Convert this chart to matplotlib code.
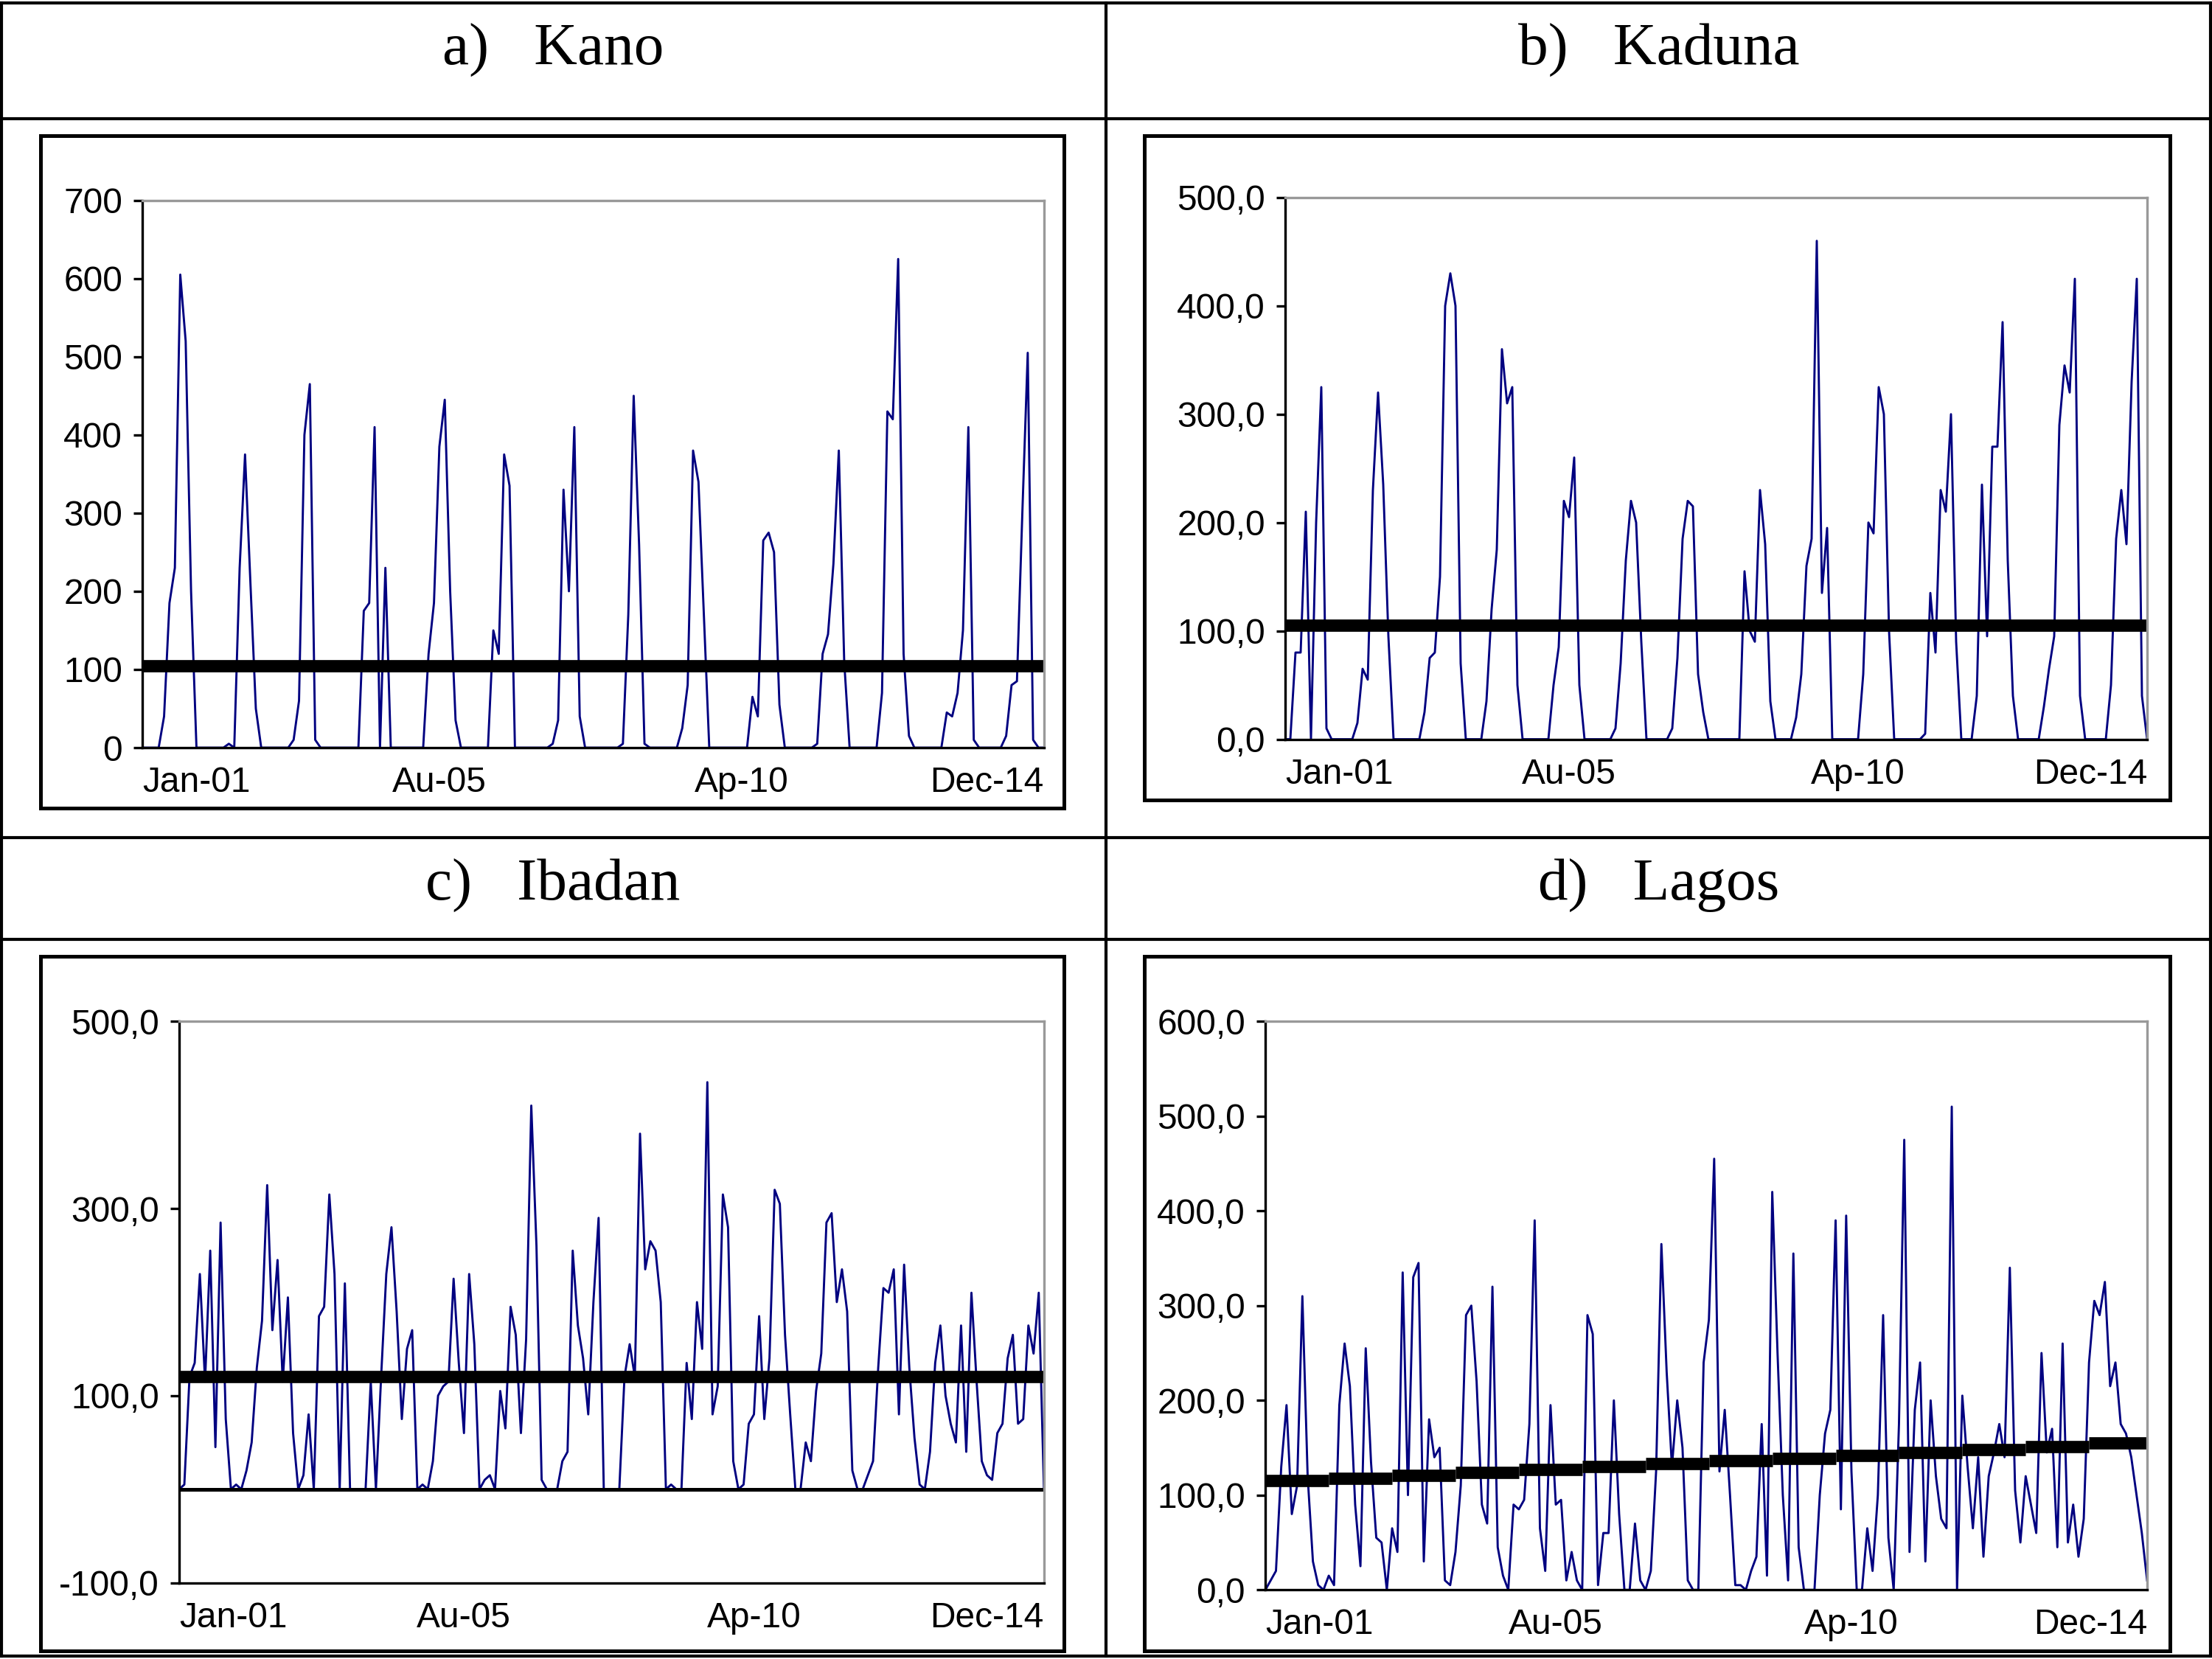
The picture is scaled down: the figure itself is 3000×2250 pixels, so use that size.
import numpy as np
import matplotlib.pyplot as plt
from matplotlib.lines import Line2D
from matplotlib.patches import Rectangle
from matplotlib.ticker import FuncFormatter

kano = [
	0, 0, 0, 0, 40, 185, 230, 605, 520, 200, 0, 0,
	0, 0, 0, 0, 5, 0, 230, 375, 210, 50, 0, 0,
	0, 0, 0, 0, 10, 60, 400, 465, 10, 0, 0, 0,
	0, 0, 0, 0, 0, 175, 185, 410, 0, 230, 0, 0,
	0, 0, 0, 0, 0, 120, 185, 385, 445, 200, 35, 0,
	0, 0, 0, 0, 0, 150, 120, 375, 335, 0, 0, 0,
	0, 0, 0, 0, 5, 35, 330, 200, 410, 40, 0, 0,
	0, 0, 0, 0, 0, 5, 170, 450, 260, 5, 0, 0,
	0, 0, 0, 0, 25, 80, 380, 340, 170, 0, 0, 0,
	0, 0, 0, 0, 0, 65, 40, 265, 275, 250, 55, 0,
	0, 0, 0, 0, 0, 5, 120, 145, 235, 380, 110, 0,
	0, 0, 0, 0, 0, 70, 430, 420, 625, 120, 15, 0,
	0, 0, 0, 0, 0, 45, 40, 70, 150, 410, 10, 0,
	0, 0, 0, 0, 15, 80, 85, 300, 505, 10, 0, 0]
kaduna = [
	0, 0, 80, 80, 210, 0, 200, 325, 10, 0, 0, 0,
	0, 0, 15, 65, 55, 230, 320, 235, 95, 0, 0, 0,
	0, 0, 0, 25, 75, 80, 150, 400, 430, 400, 70, 0,
	0, 0, 0, 35, 120, 175, 360, 310, 325, 50, 0, 0,
	0, 0, 0, 0, 50, 85, 220, 205, 260, 50, 0, 0,
	0, 0, 0, 0, 10, 70, 165, 220, 200, 90, 0, 0,
	0, 0, 0, 10, 75, 185, 220, 215, 60, 25, 0, 0,
	0, 0, 0, 0, 0, 155, 100, 90, 230, 180, 35, 0,
	0, 0, 0, 20, 60, 160, 185, 460, 135, 195, 0, 0,
	0, 0, 0, 0, 60, 200, 190, 325, 300, 100, 0, 0,
	0, 0, 0, 0, 5, 135, 80, 230, 210, 300, 90, 0,
	0, 0, 40, 235, 95, 270, 270, 385, 165, 40, 0, 0,
	0, 0, 0, 30, 65, 95, 290, 345, 320, 425, 40, 0,
	0, 0, 0, 0, 50, 185, 230, 180, 330, 425, 40, 0]
ibadan = [
	0, 5, 120, 135, 230, 115, 255, 45, 285, 75, 0, 5,
	0, 20, 50, 130, 180, 325, 170, 245, 115, 205, 60, 0,
	15, 80, 0, 185, 195, 315, 230, 0, 220, 0, 0, 0,
	0, 115, 0, 120, 230, 280, 190, 75, 150, 170, 0, 5,
	0, 30, 100, 110, 115, 225, 135, 60, 230, 155, 0, 10,
	15, 0, 105, 65, 195, 165, 60, 160, 410, 260, 10, 0,
	0, 0, 30, 40, 255, 175, 140, 80, 200, 290, 0, 0,
	0, 0, 120, 155, 120, 380, 235, 265, 255, 200, 0, 5,
	0, 0, 135, 75, 200, 150, 435, 80, 110, 315, 280, 30,
	0, 5, 70, 80, 185, 75, 140, 320, 305, 165, 80, 0,
	0, 50, 30, 105, 145, 285, 295, 200, 235, 190, 20, 0,
	0, 15, 30, 130, 215, 210, 235, 80, 240, 130, 55, 5,
	0, 40, 135, 175, 100, 70, 50, 175, 40, 210, 115, 30,
	15, 10, 60, 70, 140, 165, 70, 75, 175, 145, 210, 0]
lagos = [
	0, 10, 20, 130, 195, 80, 110, 310, 120, 30, 5, 0,
	15, 5, 195, 260, 215, 90, 25, 255, 135, 55, 50, 0,
	65, 40, 335, 100, 330, 345, 30, 180, 140, 150, 10, 5,
	40, 110, 290, 300, 220, 90, 70, 320, 45, 15, 0, 90,
	85, 95, 175, 390, 65, 20, 195, 90, 95, 10, 40, 10,
	0, 290, 270, 5, 60, 60, 200, 80, 0, 0, 70, 10,
	0, 20, 125, 365, 230, 130, 200, 150, 10, 0, 0, 240,
	285, 455, 125, 190, 100, 5, 5, 0, 20, 35, 175, 15,
	420, 250, 100, 10, 355, 45, 0, 0, 0, 100, 165, 190,
	390, 85, 395, 125, 0, 0, 65, 20, 100, 290, 55, 0,
	175, 475, 40, 190, 240, 30, 200, 120, 75, 65, 510, 0,
	205, 130, 65, 140, 35, 120, 145, 175, 140, 340, 105, 50,
	120, 90, 60, 250, 145, 170, 45, 260, 50, 90, 35, 75,
	240, 305, 290, 325, 215, 240, 175, 165, 140, 100, 60, 10]
lagos_trend = [115, 118, 121, 124, 127, 130, 133, 136, 139, 142, 145, 148, 151, 155]
means = {'Kano': 105, 'Kaduna': 105, 'Ibadan': 120}
tick_pos = [0, 55, 111, 167]
tick_lab = ['Jan-01', 'Au-05', 'Ap-10', 'Dec-14']

W, H = 1568, 1176  # reference pixel frame


def frac(x0, y0, x1, y1):
	return [x0 / W, 1 - y1 / H, (x1 - x0) / W, (y1 - y0) / H]


def panel(fig, box, rect, data, ylim, yticks, comma, mean=None, trend=None):
	fig.add_artist(Rectangle((box[0], box[1]), box[2], box[3], transform=fig.transFigure,
		fill=False, edgecolor='black', linewidth=1.2))
	ax = fig.add_axes(rect)
	ax.plot(np.arange(len(data)), data, color='#000080', linewidth=0.7)
	if mean is not None:
		ax.axhline(mean, color='black', linewidth=4)
	if trend is not None:
		for i, v in enumerate(trend):
			ax.hlines(v, 12 * i, 12 * i + 12, color='black', linewidth=4)
	ax.set_xlim(0, 167)
	ax.set_ylim(*ylim)
	ax.set_yticks(yticks)
	if comma:
		ax.yaxis.set_major_formatter(FuncFormatter(lambda v, p: f'{v:.1f}'.replace('.', ',')))
	ax.set_xticks(tick_pos)
	ax.set_xticklabels(tick_lab)
	ax.tick_params(axis='both', labelsize=11.5, direction='out', length=3)
	ax.tick_params(axis='x', length=0, pad=6)
	labs = ax.get_xticklabels()
	labs[0].set_ha('left')  # first label starts at the axis
	labs[-1].set_ha('right')
	for s in ['top', 'right']:
		ax.spines[s].set_color('#999999')
	return ax


def plot():
	plt.rcParams['font.family'] = 'Liberation Sans'
	fig = plt.figure(figsize=(10, 7.5), dpi=300)

	# table grid
	for y in [2, 84, 594, 666, 1174]:
		fig.add_artist(Line2D([0, 1], [1 - y / H] * 2, color='black', linewidth=1))
	for x in [1, 784, 1567]:
		fig.add_artist(Line2D([x / W] * 2, [1 - 2 / H, 1 - 1174 / H], color='black', linewidth=1))
	titles = [('a)   Kano', 392, 36), ('b)   Kaduna', 1176, 36), ('c)   Ibadan', 392, 628), ('d)   Lagos', 1176, 628)]
	for t, x, y in titles:
		fig.text(x / W, 1 - y / H, t, ha='center', va='center', fontsize=19.5, family='Liberation Serif')

	panel(fig, frac(29, 96, 754, 573), frac(101, 142, 740, 530), kano, (0, 700), range(0, 701, 100), False, mean=means['Kano'])
	panel(fig, frac(811, 96, 1538, 567), frac(911, 140, 1522, 524), kaduna, (0, 500), range(0, 501, 100), True, mean=means['Kaduna'])
	ax = panel(fig, frac(29, 678, 754, 1170), frac(127, 724, 740, 1122), ibadan, (-100, 500), [-100, 100, 300, 500], True, mean=means['Ibadan'])
	ax.axhline(0, color='black', linewidth=1.2)
	panel(fig, frac(811, 678, 1538, 1170), frac(897, 724, 1522, 1127), lagos, (0, 600), range(0, 601, 100), True, trend=lagos_trend)

	fig.savefig('out.png', dpi=300)


if __name__ == '__main__':
	plot()
